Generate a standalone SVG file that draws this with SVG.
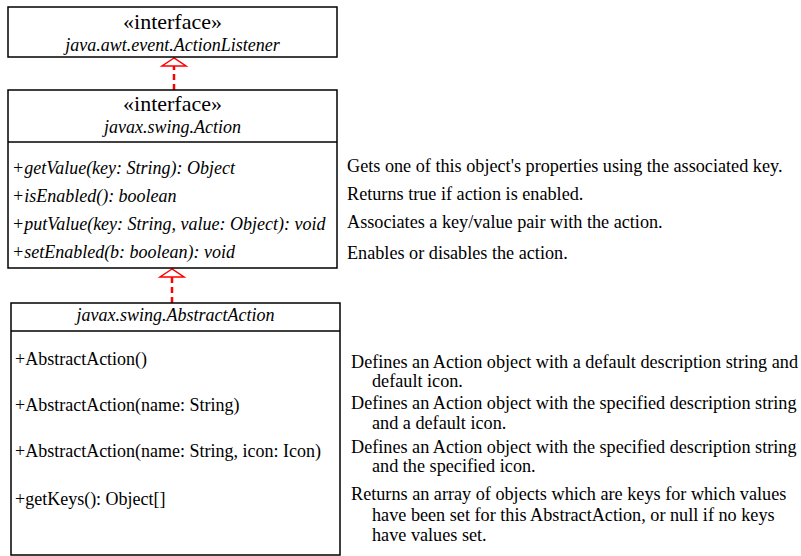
<svg xmlns="http://www.w3.org/2000/svg" width="801" height="556" viewBox="0 0 801 556">
<defs>
<style>
.box{fill:#fff;stroke:#000;stroke-width:1.5}
.ln{stroke:#000;stroke-width:1.5}
.t{font-family:"Liberation Serif","Times New Roman",serif;font-size:18px;fill:#000}
.d{font-size:18.2px}
.it{font-style:italic}
.st{font-size:22px}
.mid{text-anchor:middle}
.dash{stroke:#ff0000;stroke-width:2.5;stroke-dasharray:6 4;fill:none}
.tri{fill:#fff;stroke:#ff0000;stroke-width:1.5}
</style>
</defs>
<rect width="801" height="556" fill="#fff"/>
<g id="connectors">
<line class="dash" x1="174" y1="90" x2="174" y2="66"/>
<polygon class="tri" points="174,58 162,66 186,66"/>
<line class="dash" x1="172" y1="303" x2="172" y2="277"/>
<polygon class="tri" points="172,269 160,277 184,277"/>
</g>
<g id="ActionListener">
<rect class="box" x="8" y="7" width="329" height="50"/>
<text class="t st mid" x="172.5" y="29">«interface»</text>
<text class="t it mid" x="172.5" y="51">java.awt.event.ActionListener</text>
</g>
<g id="Action">
<rect class="box" x="8" y="90" width="329" height="178"/>
<line class="ln" x1="8" y1="142" x2="337" y2="142"/>
<text class="t st mid" x="172.5" y="111">«interface»</text>
<text class="t it mid" x="172.5" y="133">javax.swing.Action</text>
<text class="t it" x="12" y="174">+getValue(key: String): Object</text>
<text class="t it" x="12" y="202">+isEnabled(): boolean</text>
<text class="t it" x="12" y="230">+putValue(key: String, value: Object): void</text>
<text class="t it" x="12" y="258">+setEnabled(b: boolean): void</text>
</g>
<g id="Action-notes">
<text class="t d" x="347" y="172">Gets one of this object's properties using the associated key.</text>
<text class="t d" x="347" y="200">Returns true if action is enabled.</text>
<text class="t d" x="347" y="228">Associates a key/value pair with the action.</text>
<text class="t d" x="347" y="259">Enables or disables the action.</text>
</g>
<g id="AbstractAction">
<rect class="box" x="11" y="303" width="329" height="252"/>
<line class="ln" x1="11" y1="331" x2="340" y2="331"/>
<text class="t it mid" x="175.5" y="321">javax.swing.AbstractAction</text>
<text class="t" x="15" y="365">+AbstractAction()</text>
<text class="t" x="15" y="411">+AbstractAction(name: String)</text>
<text class="t" x="15" y="457">+AbstractAction(name: String, icon: Icon)</text>
<text class="t" x="15" y="505">+getKeys(): Object[]</text>
</g>
<g id="AbstractAction-notes">
<text class="t d" x="351" y="368">Defines an Action object with a default description string and</text>
<text class="t d" x="372" y="387">default icon.</text>
<text class="t d" x="351" y="409">Defines an Action object with the specified description string</text>
<text class="t d" x="372" y="429">and a default icon.</text>
<text class="t d" x="351" y="453">Defines an Action object with the specified description string</text>
<text class="t d" x="372" y="472">and the specified icon.</text>
<text class="t d" x="351" y="500">Returns an array of objects which are keys for which values</text>
<text class="t d" x="372" y="521">have been set for this AbstractAction, or null if no keys</text>
<text class="t d" x="372" y="541">have values set.</text>
</g>
</svg>
